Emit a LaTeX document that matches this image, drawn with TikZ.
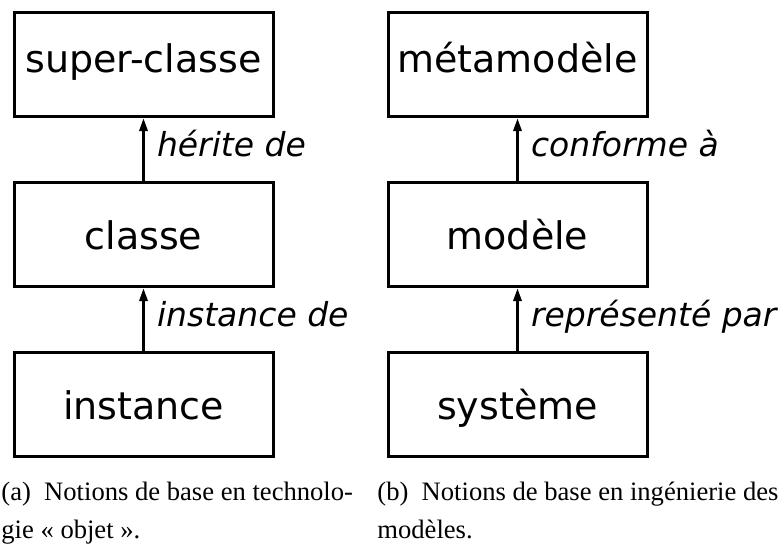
\documentclass[tikz,border=0pt]{standalone}
\usepackage{fontspec}
\setmainfont{Liberation Serif}
\setsansfont{DejaVu Sans}
\usetikzlibrary{positioning,arrows.meta}

\tikzset{
  boite/.style={draw, line width=1.5pt, minimum width=129.5pt, minimum height=52pt,
    inner sep=0pt, font=\sffamily\fontsize{19}{22}\selectfont,
    text height=15pt, text depth=0pt},
  boitehaut/.style={boite, text depth=7pt},
  fleche/.style={-{Triangle[length=6.5pt,width=4pt]}, line width=1.5pt},
  relation/.style={font=\sffamily\itshape\fontsize{16.5}{19}\selectfont,
    anchor=base west, inner sep=0pt, xshift=6pt, yshift=-3.5pt},
  legende/.style={font=\rmfamily\fontsize{13.3}{19}\selectfont,
    align=left, anchor=north west, inner sep=0pt}
}

\begin{document}
\begin{tikzpicture}[x=0.5pt,y=-0.5pt]
                \useasboundingbox (0,0) rectangle (782,559);
                % technologie objet
                \node[boitehaut] (superclasse) at (143.5,64.5) {super-classe};
                \node[boite, below=31.5pt of superclasse] (classe) {classe};
                \node[boite, below=31.5pt of classe] (instance) {instance};
                \draw[fleche]
                    (classe) -- node[relation] (herite) {hérite de} (superclasse);
                \draw[fleche]
                    (instance) -- node[relation] (instancede) {instance de} (classe);
                % ingenierie des modeles
                \node[boitehaut, right=56pt of superclasse] (metamodele) {métamodèle};
                \node[boite, below=31.5pt of metamodele] (modele) {modèle};
                \node[boite, below=31.5pt of modele] (systeme) {système};
                \draw[fleche]
                    (modele) -- node[relation] (conforme) {conforme à} (metamodele);
                \draw[fleche]
                    (systeme) -- node[relation] (represente) {représenté par} (modele);
                % legendes
                \node[legende] (legendea) at (1,482)
                    {(a)~ Notions de base en technolo-\\gie «~objet~».};
                \node[legende] (legendeb) at (377,482)
                    {(b)~ Notions de base en ingénierie des\\modèles.};
            \end{tikzpicture}
\end{document}
